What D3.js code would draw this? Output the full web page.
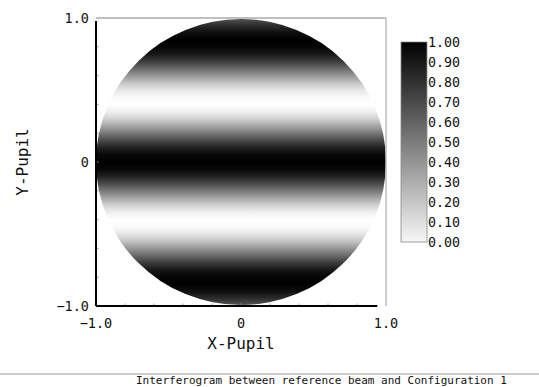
<!doctype html>
<html lang="en">
  <head>
    <meta charset="utf-8">
    <title>interferogram</title>
    <script src="https://d3js.org/d3.v7.min.js"></script>
    <style>
      body { margin: 0; background: #fff; }
      text { font-family: 'DejaVu Sans Mono', monospace; fill: #111; }
    </style>
  </head>
  <body>
    <div id="root"></div>
  </body>
  <script>

    //data:
    // fringe intensity along the pupil's y axis, from y = 1.0 down to y = -1.0, step 0.05
    const pupilY = d3.range(1, -1.0001, -0.05);
    const fringe = [0.65, 0.82, 0.94, 1.00, 0.98, 0.91, 0.77, 0.59, 0.41, 0.23,
                    0.10, 0.02, 0.00, 0.06, 0.18, 0.35, 0.53, 0.71, 0.87, 0.97,
                    1.00, 0.97, 0.87, 0.71, 0.53, 0.35, 0.18, 0.06, 0.00, 0.02,
                    0.10, 0.23, 0.41, 0.59, 0.77, 0.91, 0.98, 1.00, 0.94, 0.82, 0.65];
    const xTicks = [-1, 0, 1];
    const yTicks = [-1, 0, 1];
    const barTicks = [0, 0.1, 0.2, 0.3, 0.4, 0.5, 0.6, 0.7, 0.8, 0.9, 1.0];
    const footer = "Interferogram between reference beam and Configuration 1";

    const width = 539, height = 387;
    const svg = d3.select("#root").append("svg")
      .attr("width", width).attr("height", height);

    const x = d3.scaleLinear().domain([-1, 1]).range([96, 386]);
    const y = d3.scaleLinear().domain([-1, 1]).range([306, 18]);
    const grey = v => d3.rgb(255 * (1 - v), 255 * (1 - v), 255 * (1 - v));
    const fmt = d => d === 0 ? "0" : d3.format(".1f")(d);

    const defs = svg.append("defs");

    //fringe gradient
    const fg = defs.append("linearGradient").attr("id", "fringes")
      .attr("gradientUnits", "userSpaceOnUse")
      .attr("x1", 0).attr("x2", 0)
      .attr("y1", y(1)).attr("y2", y(-1));
    fg.selectAll("stop").data(fringe).enter().append("stop")
      .attr("offset", (d, i) => (y(pupilY[i]) - y(1)) / (y(-1) - y(1)))
      .attr("stop-color", d => grey(d));

    //pupil
    svg.append("ellipse")
      .attr("cx", x(0)).attr("cy", y(0))
      .attr("rx", x(1) - x(0)).attr("ry", y(-1) - y(0) - 1)
      .attr("fill", "url(#fringes)");

    //frame
    svg.append("line").attr("x1", x(-1)).attr("x2", x(1)).attr("y1", y(1)).attr("y2", y(1))
      .attr("stroke", "#aaa").attr("stroke-width", 1.5);
    svg.append("line").attr("x1", x(1)).attr("x2", x(1)).attr("y1", y(1)).attr("y2", y(-1))
      .attr("stroke", "#bbb").attr("stroke-width", 1.5);
    svg.append("line").attr("x1", x(-1)).attr("x2", x(0.94)).attr("y1", y(-1)).attr("y2", y(-1))
      .attr("stroke", "#000").attr("stroke-width", 2);
    svg.append("line").attr("x1", x(-1)).attr("x2", x(-1)).attr("y1", y(0.98)).attr("y2", y(-1))
      .attr("stroke", "#000").attr("stroke-width", 2);

    //minor ticks
    const minor = d3.range(-0.8, 0.81, 0.2);
    svg.selectAll(".ty").data(minor).enter().append("line")
      .attr("x1", x(-1) + 1).attr("x2", x(-1) + 2.5)
      .attr("y1", d => y(d)).attr("y2", d => y(d))
      .attr("stroke", "#999");
    svg.selectAll(".tx").data(minor).enter().append("line")
      .attr("y1", y(-1) - 1).attr("y2", y(-1) - 2.5)
      .attr("x1", d => x(d)).attr("x2", d => x(d))
      .attr("stroke", "#999");

    //tick labels
    svg.selectAll(".xl").data(xTicks).enter().append("text")
      .attr("x", d => x(d)).attr("y", 328)
      .attr("text-anchor", "middle").attr("font-size", "13.5px")
      .text(fmt);
    svg.selectAll(".yl").data(yTicks).enter().append("text")
      .attr("x", 89).attr("y", d => y(d) + 5)
      .attr("text-anchor", "end").attr("font-size", "13.5px")
      .text(fmt);

    //axis titles
    svg.append("text").attr("x", x(0)).attr("y", 349)
      .attr("text-anchor", "middle").attr("font-size", "16px").text("X-Pupil");
    svg.append("text").attr("transform", `translate(28,${y(0)}) rotate(-90)`)
      .attr("text-anchor", "middle").attr("font-size", "16px").text("Y-Pupil");

    //colorbar
    const c = d3.scaleLinear().domain([0, 1]).range([242, 42]);
    const cg = defs.append("linearGradient").attr("id", "bar")
      .attr("x1", 0).attr("x2", 0).attr("y1", 1).attr("y2", 0);
    cg.selectAll("stop").data(barTicks).enter().append("stop")
      .attr("offset", d => d)
      .attr("stop-color", d => grey(0.03 + d * 0.97));
    svg.append("rect")
      .attr("x", 401).attr("y", c(1)).attr("width", 26).attr("height", c(0) - c(1))
      .attr("fill", "url(#bar)").attr("stroke", "#888").attr("stroke-width", 0.8);
    svg.selectAll(".cl").data(barTicks).enter().append("text")
      .attr("x", 428).attr("y", d => c(d) + 5)
      .attr("font-size", "13.3px")
      .text(d => d3.format(".2f")(d));

    //footer
    svg.append("line").attr("x1", 0).attr("x2", width).attr("y1", 374).attr("y2", 374)
      .attr("stroke", "#999");
    svg.append("text").attr("x", 136).attr("y", 384)
      .attr("font-size", "11px").text(footer);

  </script>
</html>
